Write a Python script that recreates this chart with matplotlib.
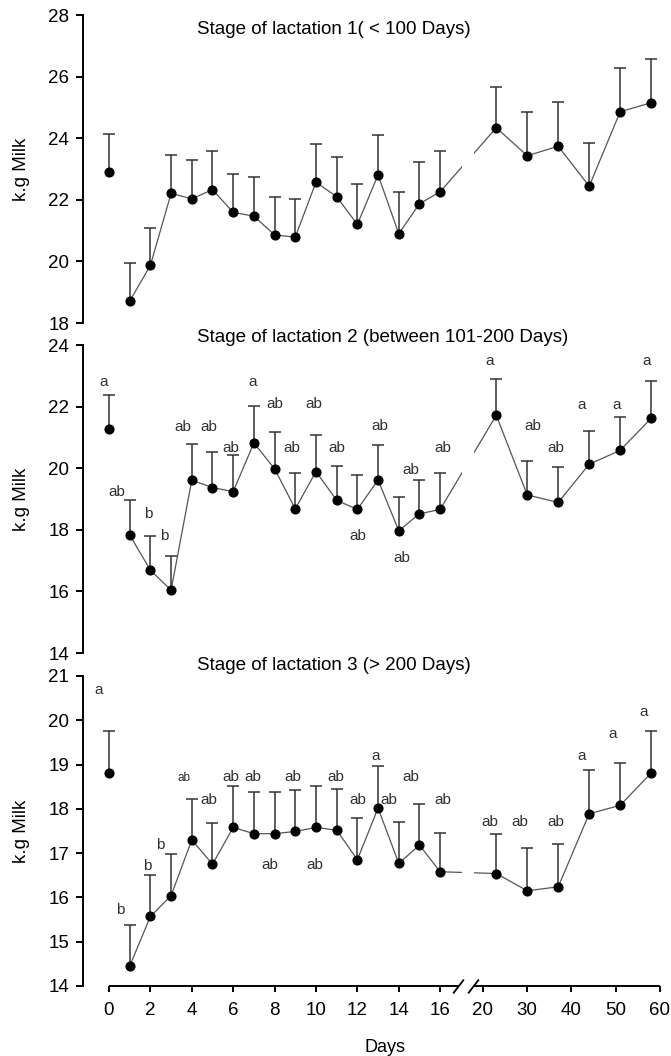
import numpy as np
import matplotlib.pyplot as plt

plt.rcParams['font.family'] = ['Liberation Sans', 'DejaVu Sans']

# sampling days (left part 0-16 daily, right part weekly)
days = [0, 1, 2, 3, 4, 5, 6, 7, 8, 9, 10, 11, 12, 13, 14, 15, 16, 23, 30, 37, 44, 51, 58]
xticks = [0, 2, 4, 6, 8, 10, 12, 14, 16, 20, 30, 40, 50, 60]

# stage 1 (< 100 days): mean and top of error bar
milk1 = [22.90, 18.71, 19.87, 22.21, 22.03, 22.33, 21.59, 21.47, 20.86, 20.79, 22.57, 22.10,
         21.20, 22.81, 20.90, 21.87, 22.26, 24.34, 23.43, 23.74, 22.44, 24.86, 25.15]
top1 = [24.15, 19.96, 21.10, 23.45, 23.29, 23.58, 22.85, 22.75, 22.09, 22.04, 23.81, 23.40,
        22.50, 24.10, 22.25, 23.23, 23.60, 25.66, 24.85, 25.18, 23.85, 26.28, 26.57]

# stage 2 (101-200 days)
milk2 = [21.26, 17.83, 16.69, 16.04, 19.61, 19.37, 19.24, 20.82, 19.98, 18.68, 19.89, 18.96,
         18.66, 19.62, 17.97, 18.52, 18.66, 21.72, 19.13, 18.89, 20.13, 20.58, 21.62]
top2 = [22.38, 18.96, 17.81, 17.14, 20.80, 20.54, 20.44, 22.02, 21.19, 19.85, 21.09, 20.08,
        19.79, 20.76, 19.08, 19.62, 19.85, 22.90, 20.23, 20.03, 21.22, 21.66, 22.83]

# stage 3 (> 200 days)
milk3 = [18.80, 14.45, 15.57, 16.04, 17.30, 16.75, 17.58, 17.44, 17.44, 17.49, 17.58, 17.52,
         16.85, 18.02, 16.77, 17.18, 16.58, 16.54, 16.15, 16.24, 17.89, 18.08, 18.81]
top3 = [19.75, 15.38, 16.50, 16.99, 18.22, 17.67, 18.51, 18.38, 18.38, 18.42, 18.51, 18.44,
        17.79, 18.97, 17.70, 18.10, 17.46, 17.43, 17.11, 17.21, 18.88, 19.03, 19.75]

titles = ["Stage of lactation 1( < 100 Days)",
          "Stage of lactation 2 (between 101-200 Days)",
          "Stage of lactation 3 (> 200 Days)"]
ylims = [(18, 28), (14, 24), (14, 21)]
yticks = [[18, 20, 22, 24, 26, 28], [14, 16, 18, 20, 22, 24], [14, 15, 16, 17, 18, 19, 20, 21]]

# significance letters: (day, k.g milk, letter)
letters1 = []
letters2 = [(-0.25, 22.80, 'a'), (0.39, 19.23, 'ab'), (1.88, 18.51, 'b'), (2.66, 17.81, 'b'),
            (3.57, 21.35, 'ab'), (4.83, 21.35, 'ab'), (5.89, 20.66, 'ab'), (6.96, 22.79, 'a'),
            (8.02, 22.07, 'ab'), (8.84, 20.66, 'ab'), (9.90, 22.07, 'ab'), (11.01, 20.66, 'ab'),
            (12.03, 17.81, 'ab'), (13.09, 21.37, 'ab'), (14.15, 17.09, 'ab'), (14.59, 19.94, 'ab'),
            (16.28, 20.66, 'ab'), (21.6, 23.48, 'a'), (31.3, 21.37, 'ab'), (36.5, 20.66, 'ab'),
            (42.3, 22.05, 'a'), (50.2, 22.05, 'a'), (57.0, 23.48, 'a')]
letters3 = [(-0.48, 20.68, 'a'), (0.56, 15.71, 'b'), (1.87, 16.70, 'b'), (2.48, 17.19, 'b'),
            (4.83, 18.21, 'ab'), (5.89, 18.71, 'ab'), (6.97, 18.71, 'ab'),
            (7.78, 16.73, 'ab'), (8.86, 18.71, 'ab'), (9.92, 16.73, 'ab'), (10.97, 18.71, 'ab'),
            (12.04, 18.21, 'ab'), (12.9, 19.19, 'a'), (13.53, 18.21, 'ab'), (14.57, 18.71, 'ab'),
            (16.27, 18.21, 'ab'), (21.6, 17.71, 'ab'), (28.35, 17.71, 'ab'), (36.4, 17.71, 'ab'),
            (42.3, 19.19, 'a'), (49.2, 19.70, 'a'), (56.2, 20.19, 'a')]
small3 = (3.64, 18.69, 'ab')

# broken x axis: 0-16 at full scale, 20-60 compressed
B1, B2, P2, R = 16.0, 20.0, 18.07, 0.2138


def fwd(x):
    x = np.asarray(x, dtype=float)
    return np.where(x <= B1, x, np.where(x < B2, B1 + (x - B1) * (P2 - B1) / (B2 - B1),
                                         P2 + (x - B2) * R))


def inv(p):
    p = np.asarray(p, dtype=float)
    return np.where(p <= B1, p, np.where(p < P2, B1 + (p - B1) * (B2 - B1) / (P2 - B1),
                                         B2 + (p - P2) / R))


fig = plt.figure(figsize=(6.71, 10.56), dpi=100)
W, H = 671.0, 1056.0
boxes = [(15, 323), (345, 653), (676, 986)]   # top / bottom in pixels
title_y = [30, 337, 666]
data = [(milk1, top1, letters1), (milk2, top2, letters2), (milk3, top3, letters3)]

for i in range(3):
    t, b = boxes[i]
    ax = fig.add_axes([83 / W, 1 - b / H, (660 - 83) / W, (b - t) / H])
    milk, top, letters = data[i]
    milk = np.array(milk)
    top = np.array(top)

    ax.set_xscale('function', functions=(fwd, inv))
    ax.set_xlim(-1.256, 60)
    ax.set_ylim(*ylims[i])

    # day 0 is not joined to the rest of the curve
    ax.plot(days[1:], milk[1:], color='#555555', lw=0.9, zorder=2, clip_on=False)
    eb = ax.errorbar(days, milk, yerr=[np.zeros_like(milk), top - milk], fmt='none',
                     ecolor='#333333', elinewidth=1.1, capsize=4.3, capthick=1.1, zorder=2)
    eb[1][0].set_visible(False)
    ax.plot(days, milk, 'o', color='black', ms=6.3, zorder=4, clip_on=False)

    # gap of the line at the axis break
    ax.axvspan(18.03, 19.15, color='white', zorder=3, lw=0)

    for x, y, s in letters:
        ax.text(x, y, s, ha='center', va='center', fontsize=11, color='#303030', zorder=5)

    for side in ['top', 'right', 'bottom']:
        ax.spines[side].set_visible(False)
    ax.spines['left'].set_linewidth(1.4)
    ax.spines['left'].set_bounds(*ylims[i])
    ax.set_yticks(yticks[i])
    ax.tick_params(axis='y', direction='out', length=5, width=1.4, labelsize=13.5, pad=5)
    ax.set_ylabel("k.g Milk", fontsize=13.5, va='center')
    ax.yaxis.set_label_coords(-0.106, 0.5)

    if i < 2:
        ax.set_xticks([])
    else:
        ax.set_xticks(xticks)
        ax.xaxis.set_minor_locator(plt.NullLocator())
        ax.set_xticklabels([str(v) for v in xticks])
        ax.tick_params(axis='x', direction='out', length=4.5, width=1.4, labelsize=13.5, pad=7)
        ax.set_xlabel("Days", fontsize=13)
        ax.xaxis.set_label_coords(0.523, -0.17)
        y0 = ylims[i][0]
        ax.plot([0, 17.7], [y0, y0], color='black', lw=1.4, clip_on=False, zorder=6,
                solid_capstyle='butt')
        ax.plot([19.1, 60], [y0, y0], color='black', lw=1.4, clip_on=False, zorder=6,
                solid_capstyle='butt')
        ax.plot([17.7, 19.1], [y0, y0], ls='none', marker=[(-1, -1.3), (1, 1.3)], ms=10,
                mec='black', mew=1.3, clip_on=False, zorder=6)
        ax.text(*small3[:2], small3[2], ha='center', va='center', fontsize=8.5,
                color='#303030', zorder=5)

    fig.text(197 / W, 1 - title_y[i] / H, titles[i], ha='left', va='center', fontsize=13.5)

fig.savefig('out.png', dpi=100)
